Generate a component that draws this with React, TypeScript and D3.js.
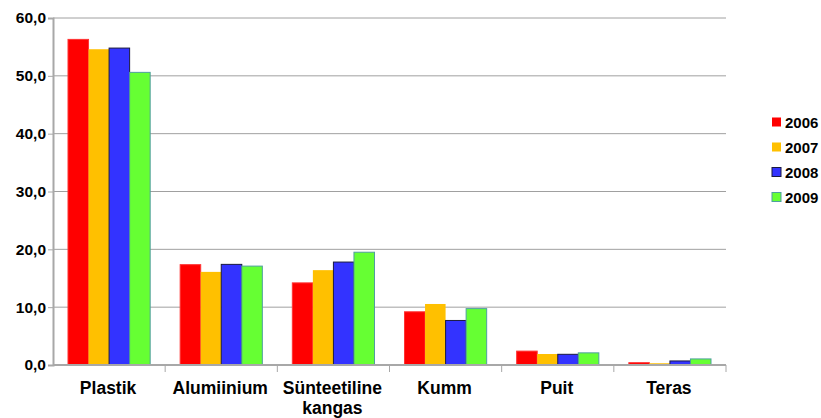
import { useEffect, useRef } from "react";
import * as d3 from "d3";

const categories = ["Plastik", "Alumiinium", "Sünteetiline\nkangas", "Kumm", "Puit", "Teras"];
const years = ["2006", "2007", "2008", "2009"];
const values2006 = [56.3, 17.35, 14.2, 9.2, 2.4, 0.4];
const values2007 = [54.6, 16.1, 16.4, 10.55, 1.9, 0.3];
const values2008 = [54.8, 17.4, 17.8, 7.7, 1.85, 0.7];
const values2009 = [50.6, 17.1, 19.5, 9.75, 2.1, 1.05];
const yTicks = [0, 10, 20, 30, 40, 50, 60];

const seriesColors = ["#ff0000", "#ffc000", "#3333ff", "#66ff33"];
const seriesStrokes = ["#ff3333", "#ffc000", "#1a1a40", "#4f9f9f"];

export default function App() {
  const ref = useRef<SVGSVGElement>(null);

  useEffect(() => {
    if (!ref.current) return;
    const width = 821;
    const height = 418;
    const left = 53;
    const right = 726;
    const top = 18;
    const bottom = 365;
    const font = "'Liberation Sans', Arial, sans-serif";

    const svg = d3.select(ref.current);
    svg.selectAll("*").remove();
    svg.attr("width", width).attr("height", height);

    const series = [values2006, values2007, values2008, values2009];

    const x = d3.scaleBand<string>().domain(categories).range([left, right]).padding(0);
    const xInner = d3
      .scaleBand<string>()
      .domain(years)
      .range([0, x.bandwidth()])
      .paddingInner(0)
      .paddingOuter(0.73);
    const y = d3.scaleLinear().domain([0, 60]).range([bottom, top]);

    // gridlines
    svg
      .append("g")
      .selectAll("line")
      .data(yTicks.filter((t) => t > 0))
      .join("line")
      .attr("x1", left)
      .attr("x2", right)
      .attr("y1", (d) => y(d))
      .attr("y2", (d) => y(d))
      .attr("stroke", "#a0a0a0")
      .attr("stroke-width", 1);

    // bars
    series.forEach((vals, si) => {
      svg
        .append("g")
        .selectAll("rect")
        .data(vals)
        .join("rect")
        .attr("x", (_, i) => (x(categories[i]) as number) + (xInner(years[si]) as number))
        .attr("y", (d) => y(d))
        .attr("width", xInner.bandwidth())
        .attr("height", (d) => bottom - y(d))
        .attr("fill", seriesColors[si])
        .attr("stroke", seriesStrokes[si])
        .attr("stroke-width", si === 1 ? 0 : 1);
    });

    // y axis
    const yAxis = svg
      .append("g")
      .attr("transform", `translate(${left},0)`)
      .call(d3.axisLeft(y).tickValues(yTicks).tickSize(5).tickPadding(2).tickFormat((d) => d3.format(".1f")(d as number).replace(".", ",")));
    yAxis.select(".domain").attr("stroke", "#a8a8a8").attr("stroke-width", 2);
    yAxis.selectAll(".tick line").attr("stroke", "#a8a8a8");
    yAxis
      .selectAll("text")
      .attr("font-family", font)
      .attr("font-size", 15.5)
      .attr("font-weight", "bold")
      .attr("fill", "#000");

    // x axis
    svg
      .append("line")
      .attr("x1", left)
      .attr("x2", right)
      .attr("y1", bottom)
      .attr("y2", bottom)
      .attr("stroke", "#a8a8a8")
      .attr("stroke-width", 2);
    svg
      .append("g")
      .selectAll("line")
      .data(categories)
      .join("line")
      .attr("x1", (d) => (x(d) as number) + x.bandwidth())
      .attr("x2", (d) => (x(d) as number) + x.bandwidth())
      .attr("y1", bottom)
      .attr("y2", bottom + 7)
      .attr("stroke", "#a8a8a8");

    const labels = svg
      .append("g")
      .selectAll("text")
      .data(categories)
      .join("text")
      .attr("x", (d) => (x(d) as number) + x.bandwidth() / 2 - 1)
      .attr("y", bottom + 29)
      .attr("text-anchor", "middle")
      .attr("font-family", font)
      .attr("font-size", 17.5)
      .attr("font-weight", "bold")
      .attr("fill", "#000");
    labels
      .selectAll("tspan")
      .data((d) => d.split("\n"))
      .join("tspan")
      .attr("x", function () {
        return (this.parentNode as SVGTextElement).getAttribute("x");
      })
      .attr("dy", (_, i) => (i === 0 ? 0 : 19.5))
      .text((d) => d);

    // legend
    const legend = svg.append("g").attr("transform", "translate(772,122)");
    years.forEach((yr, i) => {
      const g = legend.append("g").attr("transform", `translate(0,${i * 25})`);
      g.append("rect")
        .attr("x", 0)
        .attr("y", -4.5)
        .attr("width", 9)
        .attr("height", 9)
        .attr("fill", seriesColors[i])
        .attr("stroke", seriesStrokes[i])
        .attr("stroke-width", i === 1 || i === 0 ? 0 : 1);
      g.append("text")
        .attr("x", 13)
        .attr("y", 5.5)
        .attr("font-family", font)
        .attr("font-size", 15)
        .attr("font-weight", "bold")
        .attr("fill", "#000")
        .text(yr);
    });
  }, []);

  return <svg ref={ref} style={{ position: "absolute", left: 0, top: 0, background: "#fff" }} />;
}
